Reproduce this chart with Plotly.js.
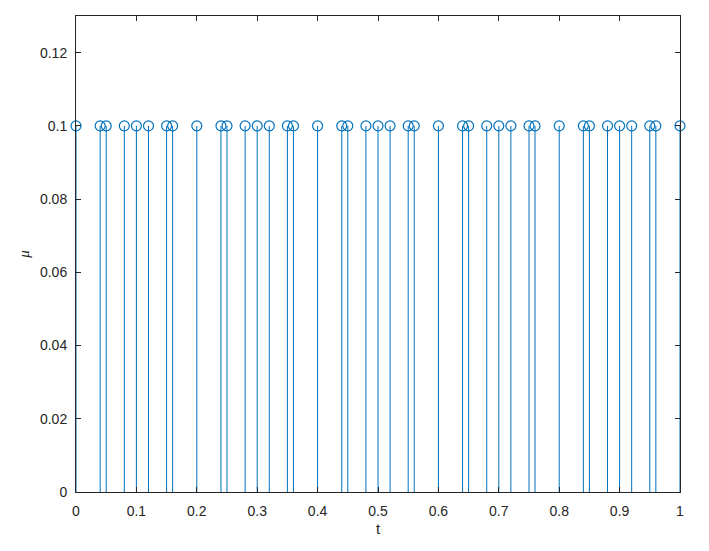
<!DOCTYPE html>
<html>
<head>
<meta charset="utf-8">
<script src="https://cdn.plot.ly/plotly-3.0.1.min.js"></script>
<style>html,body{margin:0;padding:0;background:#fff;}#chart{width:709px;height:551px;}</style>
</head>
<body>
<div id="chart"></div>
<script>
// Stem locations (t) and heights (mu)
var tValues = [0, 0.04, 0.05, 0.08, 0.1, 0.12, 0.15, 0.16, 0.2, 0.24, 0.25, 0.28, 0.3, 0.32, 0.35, 0.36, 0.4, 0.44, 0.45, 0.48, 0.5, 0.52, 0.55, 0.56, 0.6, 0.64, 0.65, 0.68, 0.7, 0.72, 0.75, 0.76, 0.8, 0.84, 0.85, 0.88, 0.9, 0.92, 0.95, 0.96, 1.0];
var muValues = [0.1, 0.1, 0.1, 0.1, 0.1, 0.1, 0.1, 0.1, 0.1, 0.1, 0.1, 0.1, 0.1, 0.1, 0.1, 0.1, 0.1, 0.1, 0.1, 0.1, 0.1, 0.1, 0.1, 0.1, 0.1, 0.1, 0.1, 0.1, 0.1, 0.1, 0.1, 0.1, 0.1, 0.1, 0.1, 0.1, 0.1, 0.1, 0.1, 0.1, 0.1];
var xTicks = [0, 0.1, 0.2, 0.3, 0.4, 0.5, 0.6, 0.7, 0.8, 0.9, 1];
var xTickLabels = ['0', '0.1', '0.2', '0.3', '0.4', '0.5', '0.6', '0.7', '0.8', '0.9', '1'];
var yTicks = [0, 0.02, 0.04, 0.06, 0.08, 0.1, 0.12];
var yTickLabels = ['0', '0.02', '0.04', '0.06', '0.08', '0.1', '0.12'];

var color = '#0072BD';
var sx = [], sy = [];
for (var i = 0; i < tValues.length; i++) {
  sx.push(tValues[i], tValues[i], null);
  sy.push(0, muValues[i], null);
}
var stems = {x: sx, y: sy, mode: 'lines', type: 'scatter', line: {color: color, width: 1}, hoverinfo: 'skip', showlegend: false, cliponaxis: false};
var heads = {x: tValues, y: muValues, mode: 'markers', type: 'scatter', marker: {symbol: 'circle-open', size: 10, color: color, line: {width: 1.2, color: color}}, showlegend: false, cliponaxis: false};

var fontFam = 'Liberation Sans, Arial, sans-serif';
var axCommon = {
  showgrid: false, zeroline: false, showline: true, mirror: 'ticks',
  linecolor: '#262626', linewidth: 1, ticks: 'inside', ticklen: 5, tickcolor: '#262626',
  tickfont: {family: fontFam, size: 14, color: '#262626'}
};
var layout = {
  width: 709, height: 551,
  margin: {l: 76, r: 29, t: 16, b: 59},
  paper_bgcolor: '#fff', plot_bgcolor: '#fff',
  xaxis: Object.assign({}, axCommon, {range: [0, 1], tickvals: xTicks, ticktext: xTickLabels, ticklabelstandoff: 6,
    title: {text: 't', font: {family: fontFam, size: 15, color: '#262626'}, standoff: 5}}),
  yaxis: Object.assign({}, axCommon, {range: [0, 0.13], tickvals: yTicks, ticktext: yTickLabels, ticklabelstandoff: 5,
    title: {text: '<i>μ</i>', font: {family: 'Liberation Serif, serif', size: 15, color: '#262626'}, standoff: 6}})
};
Plotly.newPlot('chart', [stems, heads], layout, {displayModeBar: false, staticPlot: true});
</script>
</body>
</html>
